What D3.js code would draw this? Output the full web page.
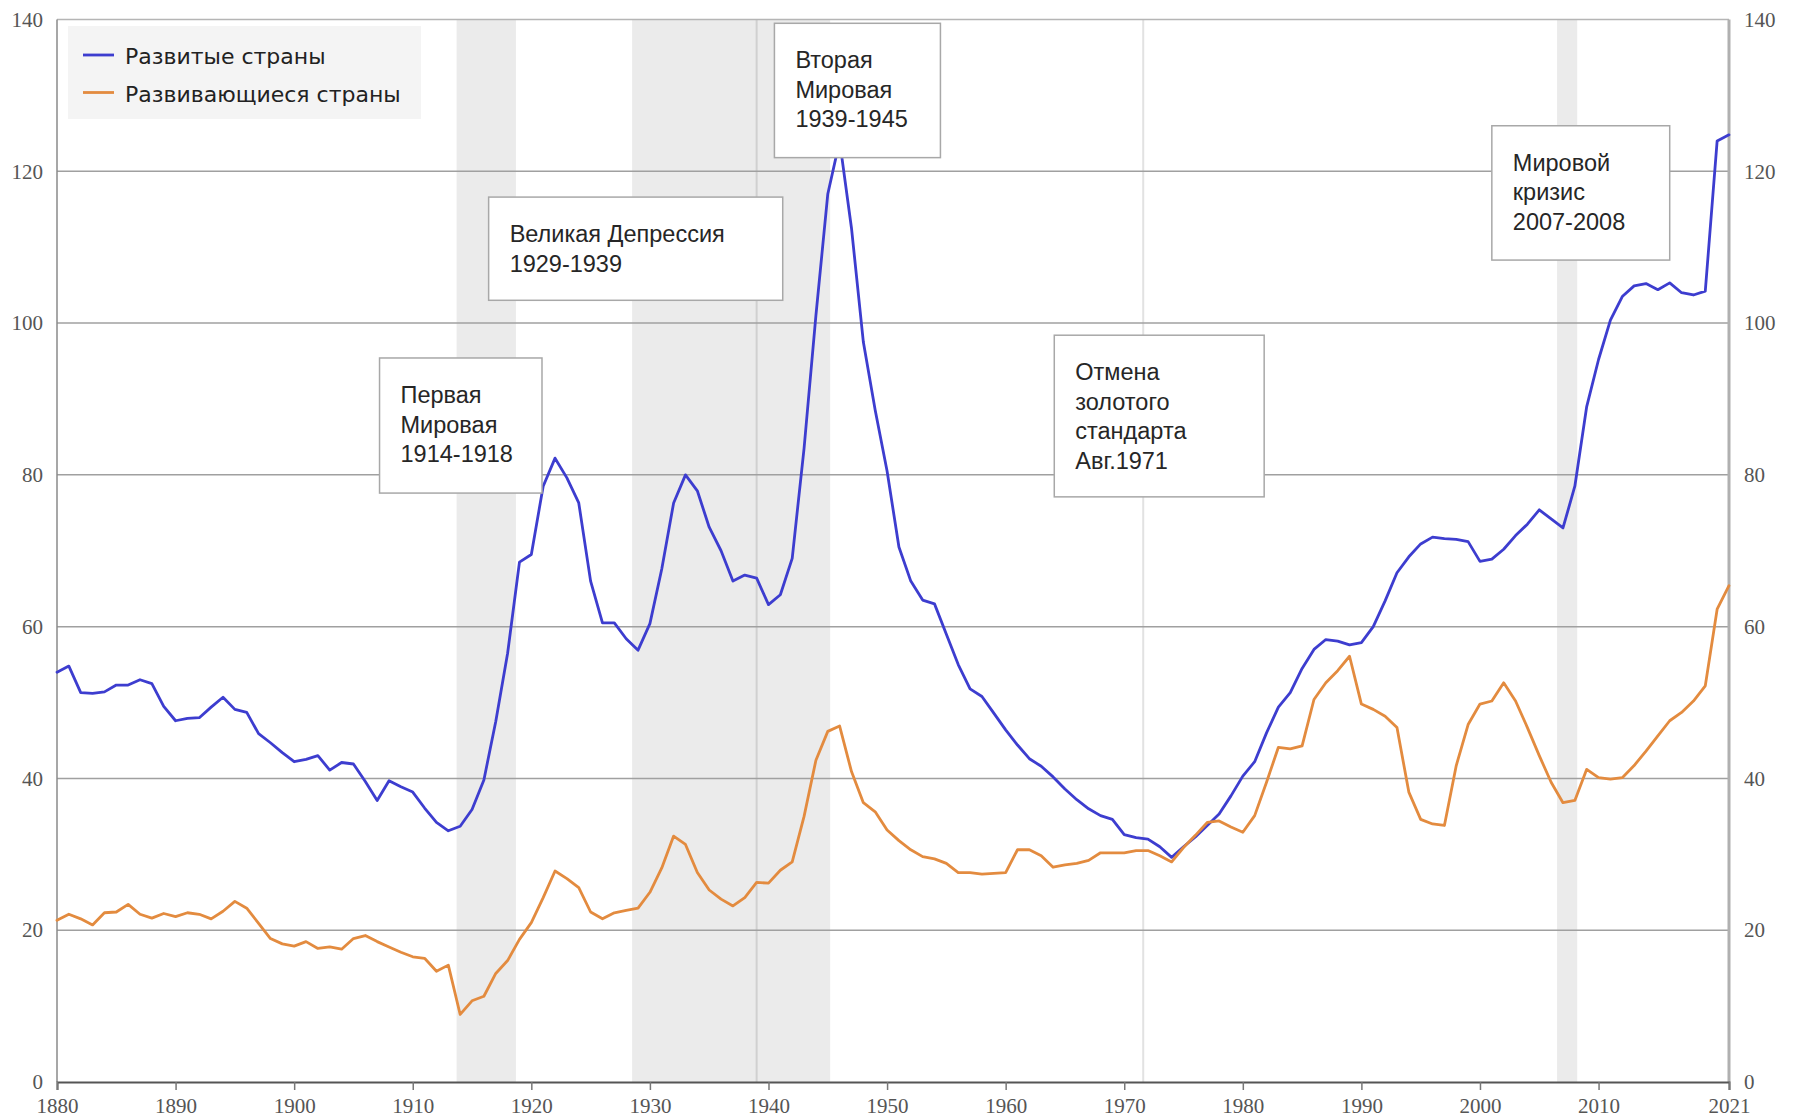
<!DOCTYPE html>
<html><head><meta charset="utf-8">
<script src="https://cdn.jsdelivr.net/npm/d3@7"></script>
<style>
html,body{margin:0;padding:0;background:#fff;}
svg{display:block;}
</style></head>
<body>
<svg id="chart" width="1797" height="1120"></svg>
<script>
// ---------- DATA ----------
const startYear = 1880;
const endYear = 2021;
const seriesNames = ["Развитые страны", "Развивающиеся страны"];
const developed = [
54.0,54.8,51.3,51.2,51.4,52.3,52.3,53.0,52.5,49.5,
47.6,47.9,48.0,49.4,50.7,49.1,48.7,45.9,44.7,43.4,
42.2,42.5,43.0,41.1,42.1,41.9,39.6,37.1,39.7,38.9,
38.2,36.1,34.2,33.1,33.7,35.9,39.8,47.5,56.5,68.5,
69.5,78.5,82.2,79.6,76.3,66.0,60.5,60.5,58.4,56.9,
60.4,67.6,76.3,80.0,77.9,73.1,70.0,66.0,66.8,66.4,
62.9,64.2,69.0,83.5,101.0,117.0,124.0,112.5,97.5,88.5,
80.5,70.5,66.0,63.5,63.0,59.0,55.0,51.8,50.8,48.6,
46.4,44.4,42.6,41.6,40.2,38.6,37.2,36.0,35.1,34.6,
32.6,32.2,32.0,31.0,29.6,31.0,32.3,33.8,35.3,37.7,
40.3,42.2,46.0,49.4,51.3,54.5,57.0,58.3,58.1,57.6,
57.9,60.0,63.4,67.1,69.2,70.9,71.8,71.6,71.5,71.2,
68.6,68.9,70.2,72.0,73.5,75.4,74.2,73.0,78.5,89.0,
95.2,100.4,103.5,104.9,105.2,104.4,105.3,104.0,103.7,104.2,
124.0,124.8];
const developing = [
21.3,22.1,21.5,20.7,22.3,22.4,23.4,22.1,21.6,22.2,
21.8,22.3,22.1,21.5,22.5,23.8,22.9,20.9,18.9,18.2,
17.9,18.5,17.6,17.8,17.5,18.9,19.3,18.5,17.8,17.1,
16.5,16.3,14.6,15.4,8.9,10.7,11.3,14.3,16.0,18.8,
21.0,24.3,27.8,26.8,25.6,22.4,21.5,22.3,22.6,22.9,
25.0,28.2,32.4,31.3,27.6,25.3,24.1,23.2,24.3,26.3,
26.2,27.9,29.0,35.0,42.4,46.2,46.9,40.9,36.8,35.6,
33.2,31.8,30.6,29.7,29.4,28.8,27.6,27.6,27.4,27.5,
27.6,30.6,30.6,29.8,28.3,28.6,28.8,29.2,30.2,30.2,
30.2,30.5,30.5,29.8,29.0,30.9,32.5,34.2,34.4,33.6,
32.9,35.1,39.5,44.1,43.9,44.3,50.4,52.6,54.2,56.1,
49.8,49.1,48.2,46.7,38.2,34.6,34.0,33.8,41.7,47.1,
49.8,50.2,52.6,50.2,46.7,43.0,39.5,36.8,37.1,41.2,
40.1,39.9,40.1,41.7,43.6,45.6,47.6,48.7,50.2,52.2,
62.3,65.4];
const xTickLabels = [1880,1890,1900,1910,1920,1930,1940,1950,1960,1970,1980,1990,2000,2010,2021];
const yTickLabels = [0,20,40,60,80,100,120,140];
const shadedPeriods = [[1913.7,1918.7],[1928.5,1945.2],[2006.5,2008.2]];
const markerYears = [1939.0, 1971.6];
const annotationTexts = [
  ["Первая","Мировая","1914-1918"],
  ["Великая Депрессия","1929-1939"],
  ["Вторая","Мировая","1939-1945"],
  ["Отмена","золотого","стандарта","Авг.1971"],
  ["Мировой","кризис","2007-2008"]
];
// box extents in data units: [yearLeft, yearRight, valueTop, valueBottom]
const annotationBoxes = [
  [1907.2,1920.9,95.4,77.6],
  [1916.4,1941.2,116.6,103.0],
  [1940.5,1954.5,139.5,121.8],
  [1964.1,1981.8,98.4,77.1],
  [2001.0,2016.0,126.0,108.3]
];

(function(){
// ---------- LAYOUT ----------
const mL = 57, mR = 1729, mT = 19.5, mB = 1082;
const colors = ["#3d3dcf", "#e38b3f"];

const svg = d3.select("#chart");
const years = d3.range(startYear, endYear + 1);
const x = d3.scaleLinear().domain([startYear, endYear]).range([mL, mR]);
const y = d3.scaleLinear().domain([0, 140]).range([mB, mT]);

// shaded periods
svg.append("g").selectAll("rect").data(shadedPeriods).join("rect")
  .attr("x", d => x(d[0])).attr("width", d => x(d[1]) - x(d[0]))
  .attr("y", mT).attr("height", mB - mT)
  .attr("fill", "#ebebeb");

// marker vertical lines
svg.append("g").selectAll("line").data(markerYears).join("line")
  .attr("x1", d => x(d)).attr("x2", d => x(d))
  .attr("y1", mT).attr("y2", mB)
  .attr("stroke", (d,i) => i === 0 ? "#d0d0d0" : "#e2e2e2")
  .attr("stroke-width", 2);

// gridlines
svg.append("g").selectAll("line").data(yTickLabels.filter(v => v > 0 && v < 140)).join("line")
  .attr("x1", mL).attr("x2", mR)
  .attr("y1", d => y(d)).attr("y2", d => y(d))
  .attr("stroke", "#a0a0a0").attr("stroke-width", 1.5);

// frame
svg.append("line").attr("x1", mL).attr("x2", mR).attr("y1", mT).attr("y2", mT)
  .attr("stroke", "#b5b5b5").attr("stroke-width", 1.5);
svg.append("line").attr("x1", mL).attr("x2", mL).attr("y1", mT).attr("y2", mB)
  .attr("stroke", "#8a8a8a").attr("stroke-width", 1.5);
svg.append("line").attr("x1", mR).attr("x2", mR).attr("y1", mT).attr("y2", mB)
  .attr("stroke", "#b0b0b0").attr("stroke-width", 3);

// tick label font: narrow sans
let tickFont = "Liberation Sans Narrow", tickSize = 21;
const probe = svg.append("text").attr("font-family", tickFont).attr("font-size", tickSize).text("1880");
if (probe.node().getComputedTextLength() > 46) { tickFont = "Liberation Sans"; tickSize = 18; }
probe.remove();
const styleTicks = g => g.selectAll("text").attr("font-family", tickFont)
  .attr("font-size", tickSize).attr("fill", "#555");

const yAxisL = d3.axisLeft(y).tickValues(yTickLabels).tickSize(0).tickPadding(14);
const gL = svg.append("g").attr("transform", `translate(${mL},0)`).call(yAxisL);
gL.select(".domain").remove();
styleTicks(gL);

const yAxisR = d3.axisRight(y).tickValues(yTickLabels).tickSize(0).tickPadding(15);
const gR = svg.append("g").attr("transform", `translate(${mR},0)`).call(yAxisR);
gR.select(".domain").remove();
styleTicks(gR);

const xAxis = d3.axisBottom(x).tickValues(xTickLabels).tickFormat(d3.format("d")).tickSize(8).tickPadding(8);
const gB = svg.append("g").attr("transform", `translate(0,${mB})`).call(xAxis);
gB.select(".domain").attr("stroke", "#555").attr("stroke-width", 2);
gB.selectAll(".tick line").attr("stroke", "#777").attr("stroke-width", 1.5);
styleTicks(gB);

// lines
const line = d3.line().x((d,i) => x(years[i])).y(d => y(d));
[developed, developing].forEach((s, i) => {
  svg.append("path").datum(s).attr("d", line)
    .attr("fill", "none").attr("stroke", colors[i]).attr("stroke-width", 2.8)
    .attr("stroke-linejoin", "round").attr("stroke-linecap", "round");
});

// annotation boxes
const ann = svg.append("g");
annotationBoxes.forEach((b, i) => {
  const bx = x(b[0]), bw = x(b[1]) - x(b[0]);
  const by = y(b[2]), bh = y(b[3]) - y(b[2]);
  ann.append("rect").attr("x", bx).attr("y", by).attr("width", bw).attr("height", bh)
    .attr("fill", "#fff").attr("stroke", "#a8a8a8").attr("stroke-width", 1.5);
  const t = ann.append("text").attr("font-family", "Liberation Sans, Arial, sans-serif")
    .attr("font-size", 23.5).attr("fill", "#262626");
  annotationTexts[i].forEach((ln, j) => {
    t.append("tspan").attr("x", bx + 21).attr("y", by + 45 + j * 29.6).text(ln);
  });
});

// legend
const lg = svg.append("g");
lg.append("rect").attr("x", 68).attr("y", 26).attr("width", 353).attr("height", 93).attr("fill", "#f4f4f4");
seriesNames.forEach((n, i) => {
  const ly = 55 + i * 37.5;
  lg.append("line").attr("x1", 83).attr("x2", 114).attr("y1", ly).attr("y2", ly)
    .attr("stroke", colors[i]).attr("stroke-width", 2.8);
  lg.append("text").attr("x", 125).attr("y", ly + 9).text(n)
    .attr("font-family", "DejaVu Sans").attr("font-size", 22).attr("fill", "#222");
});
})();
</script>
</body></html>
